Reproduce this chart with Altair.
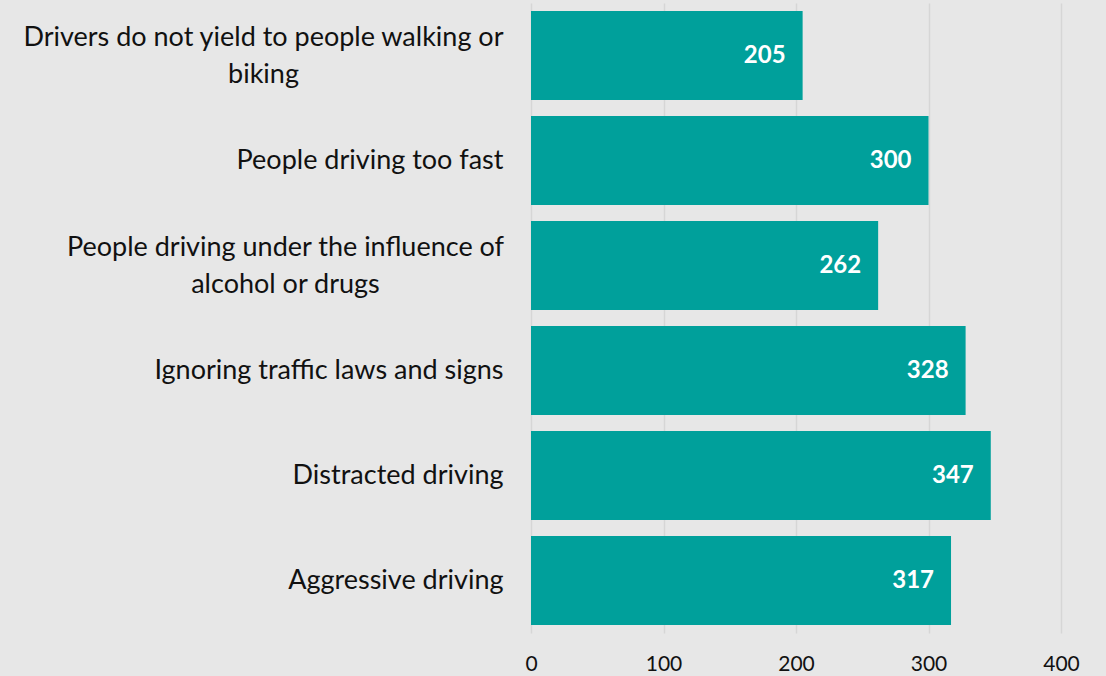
import altair as alt
import pandas as pd

categories = [
    "Drivers do not yield to people walking or|biking",
    "People driving too fast",
    "People driving under the influence of|alcohol or drugs",
    "Ignoring traffic laws and signs",
    "Distracted driving",
    "Aggressive driving",
]
values = [205, 300, 262, 328, 347, 317]
x_ticks = [0, 100, 200, 300, 400]

df = pd.DataFrame({"cat": categories, "val": values})

FONT = "Lato"
MULTI = "indexof(datum.value, '|') >= 0"

base = alt.Chart(df).encode(
    y=alt.Y(
        "cat:N",
        sort=categories,
        title=None,
        scale=alt.Scale(paddingInner=0.152, paddingOuter=0.076),
        axis=alt.Axis(
            labelExpr="split(datum.label, '|')",
            labelFontSize=27,
            labelFont=FONT,
            labelColor="#111111",
            labelAlign={"condition": {"test": MULTI, "value": "center"}, "value": "right"},
            labelPadding={
                "condition": [
                    {"test": "indexof(datum.value, 'Drivers') >= 0", "value": 268},
                    {"test": "indexof(datum.value, 'influence') >= 0", "value": 246},
                ],
                "value": 28,
            },
            labelLimit=700,
            labelLineHeight=37,
            labelOffset={"condition": {"test": MULTI, "value": -18}, "value": 0},
            ticks=False,
            domain=False,
            grid=False,
        ),
    ),
    x=alt.X(
        "val:Q",
        title=None,
        scale=alt.Scale(domain=[0, 400], nice=False),
        axis=alt.Axis(
            values=x_ticks,
            labelFontSize=21,
            labelFont=FONT,
            labelColor="#111111",
            labelPadding=20,
            labelFlush=False,
            ticks=False,
            domain=False,
            grid=True,
            gridColor="#d6d6d6",
            gridWidth=1.5,
        ),
    ),
)

bars = base.mark_bar(color="#00A09B")
labels = base.mark_text(
    align="right", baseline="middle", dx=-17, color="white",
    fontWeight="bold", fontSize=24, font=FONT,
).encode(text="val:Q")

chart = (
    alt.layer(bars, labels)
    .properties(
        width=530,
        height=630,
        background="#e7e7e7",
        padding={"left": 531, "top": 3, "right": 45, "bottom": 43},
        autosize=alt.AutoSizeParams(type="none"),
    )
    .configure_view(stroke=None)
)

chart.save("out.html", embed_options={"renderer": "svg", "actions": False})
